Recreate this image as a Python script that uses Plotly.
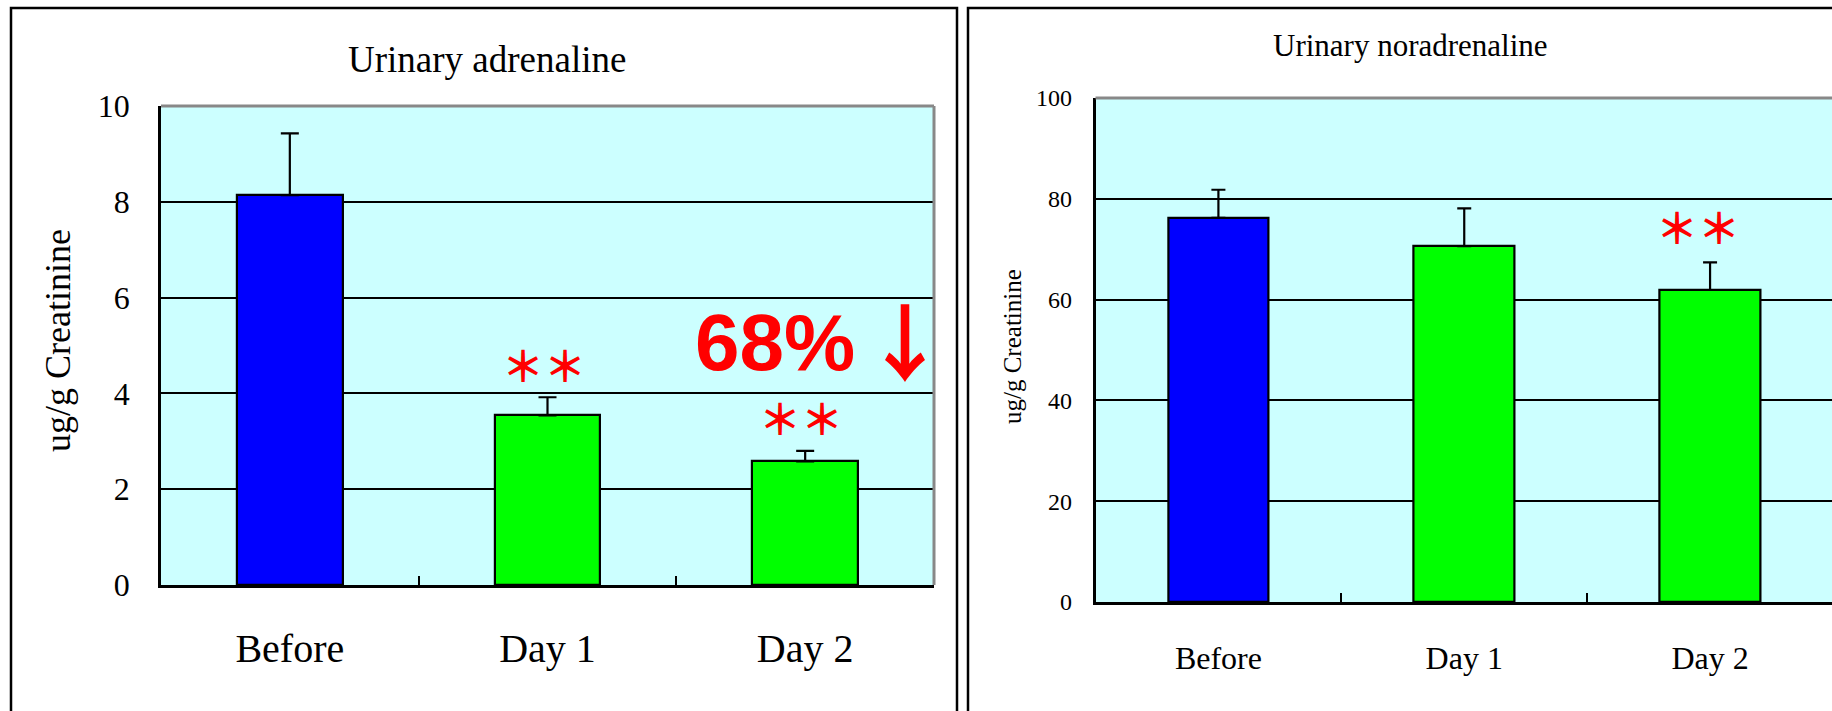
import plotly.graph_objects as go

# Categories and measured values (ug/g creatinine, mean with SD upper bar)
categories = ["Before", "Day 1", "Day 2"]
adrenaline_mean = [8.14, 3.54, 2.58]
adrenaline_sd = [1.29, 0.38, 0.22]
adrenaline_sig = ["", "＊＊", "＊＊"]
noradrenaline_mean = [76.2, 70.6, 61.9]
noradrenaline_sd = [5.6, 7.5, 5.5]
noradrenaline_sig = ["", "", "＊＊"]
bar_colors = ["#0000FF", "#00FF00", "#00FF00"]

W, H = 1832, 711
SERIF = "Liberation Serif, Times New Roman, serif"


def px_x(v):
    return v / W


def px_y(v):
    return 1 - v / H


fig = go.Figure()

fig.add_trace(go.Bar(
    x=categories, y=adrenaline_mean, width=0.41,
    marker=dict(color=bar_colors, line=dict(color="black", width=2.2)),
    error_y=dict(type="data", symmetric=False, array=adrenaline_sd,
                 arrayminus=[0] * 3, color="black", thickness=2.2, width=9),
    xaxis="x", yaxis="y", showlegend=False, hoverinfo="skip",
))
fig.add_trace(go.Bar(
    x=categories, y=noradrenaline_mean, width=0.41,
    marker=dict(color=bar_colors, line=dict(color="black", width=2.2)),
    error_y=dict(type="data", symmetric=False, array=noradrenaline_sd,
                 arrayminus=[0] * 3, color="black", thickness=2.2, width=7),
    xaxis="x2", yaxis="y2", showlegend=False, hoverinfo="skip",
))

common_x = dict(
    type="category", showline=True, linecolor="black", linewidth=2.5,
    ticks="inside", tickson="boundaries", ticklen=9, tickwidth=2,
    tickcolor="black", showgrid=False, zeroline=False, fixedrange=True,
    automargin=False,
)
common_y = dict(
    showline=True, linecolor="black", linewidth=2.5, ticks="inside",
    ticklen=8, tickwidth=2, tickcolor="black", showgrid=True,
    gridcolor="black", gridwidth=2.2, zeroline=False, fixedrange=True,
    automargin=False,
)

fig.update_layout(
    width=W, height=H,
    margin=dict(l=0, r=0, t=0, b=0, autoexpand=False),
    paper_bgcolor="white",
    font=dict(family=SERIF, color="black"),
    bargap=0,
    xaxis=dict(common_x, domain=[px_x(161), px_x(934)], range=[-0.5, 2.5],
               anchor="y", tickfont=dict(size=40, family=SERIF),
               ticklabelstandoff=26),
    yaxis=dict(common_y, domain=[px_y(585), px_y(106)], range=[0, 10],
               tickvals=[0, 2, 4, 6, 8, 10], anchor="x",
               tickfont=dict(size=32, family=SERIF), ticklabelstandoff=22),
    xaxis2=dict(common_x, domain=[px_x(1095.5), 1.0], range=[-0.5, 2.496],
                anchor="y2", tickfont=dict(size=32, family=SERIF),
                ticklabelstandoff=26),
    yaxis2=dict(common_y, domain=[px_y(602), px_y(98)], range=[0, 100],
                tickvals=[0, 20, 40, 60, 80, 100], anchor="x2",
                tickfont=dict(size=24, family=SERIF), ticklabelstandoff=16),
    plot_bgcolor="#CCFFFF",
)

shapes = [
    # panel frames
    dict(type="rect", xref="paper", yref="paper", x0=px_x(11), x1=px_x(957),
         y0=px_y(8), y1=-0.2, line=dict(color="black", width=2.5), layer="above"),
    dict(type="rect", xref="paper", yref="paper", x0=px_x(968), x1=1.2,
         y0=px_y(8), y1=-0.2, line=dict(color="black", width=2.5), layer="above"),
    # grey upper and right plot-area borders
    dict(type="line", xref="x domain", yref="y domain", x0=0, x1=1, y0=1, y1=1,
         line=dict(color="#888888", width=3), layer="above"),
    dict(type="line", xref="x domain", yref="y domain", x0=1, x1=1, y0=0, y1=1,
         line=dict(color="#888888", width=3), layer="above"),
    dict(type="line", xref="x2 domain", yref="y2 domain", x0=0, x1=1, y0=1, y1=1,
         line=dict(color="#888888", width=3), layer="above"),
]
fig.update_layout(shapes=shapes)


def label(text, x, y, size, family=SERIF, color="black", angle=0):
    return dict(text=text, x=px_x(x), y=px_y(y), xref="paper", yref="paper",
                xanchor="center", yanchor="middle", showarrow=False,
                textangle=angle, font=dict(size=size, family=family, color=color))


annotations = [
    label("Urinary adrenaline", 487, 59, 37),
    label("Urinary noradrenaline", 1410, 45, 31),
    label("ug/g Creatinine", 58, 340, 36, angle=-90),
    label("ug/g Creatinine", 1012, 347, 25, angle=-90),
    label("<b>68%</b>", 775, 342, 80, family="Liberation Sans, Arial, sans-serif",
          color="red"),
    label("<b>↓</b>", 905, 339, 84, family="Noto Sans CJK JP, sans-serif",
          color="red"),
]

star_font = dict(size=42, family="Noto Sans CJK JP, sans-serif", color="red",
                 weight="bold")
for cat, m, s, sig in zip(categories, adrenaline_mean, adrenaline_sd, adrenaline_sig):
    if sig:
        annotations.append(dict(text=sig, x=cat, y=m + s, xref="x", yref="y",
                                xanchor="center", yanchor="middle", yshift=34,
                                xshift=-4, showarrow=False, font=star_font))
for cat, m, s, sig in zip(categories, noradrenaline_mean, noradrenaline_sd, noradrenaline_sig):
    if sig:
        annotations.append(dict(text=sig, x=cat, y=m + s, xref="x2", yref="y2",
                                xanchor="center", yanchor="middle", yshift=37,
                                xshift=-12, showarrow=False, font=star_font))
fig.update_layout(annotations=annotations)

fig.write_html("out.html")
